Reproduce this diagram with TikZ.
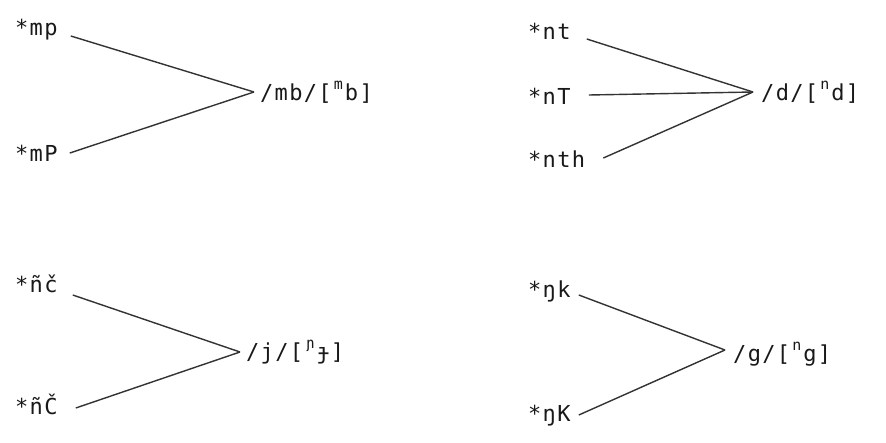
\documentclass[tikz,border=0pt]{standalone}
\usepackage{fontspec}
\newfontfamily\tw[LetterSpace=6]{DejaVu Sans Mono}
\newcommand{\supr}[1]{\setbox0\hbox{x}\makebox[\wd0][c]{\raisebox{0.52em}{\fontsize{15}{15}\selectfont #1}}}
\begin{document}
\begin{tikzpicture}[x=1pt,y=-1pt,
  lab/.style={font=\tw\fontsize{22}{26}\selectfont, inner sep=0pt, text=black!90},
  ln/.style={line width=1.4pt, draw=black!80}]
\useasboundingbox[fill=white] (0,0) rectangle (886,442);
% sources
\node[lab, anchor=base west] (m1) at (15,35) {*mp};
\node[lab, anchor=base west] (m2) at (15,161) {*mP};
\node[lab, anchor=base west] (n1) at (528,39) {*nt};
\node[lab, anchor=base west] (n2) at (528,104) {*nT};
\node[lab, anchor=base west] (n3) at (528,167) {*nth};
\node[lab, anchor=base west] (j1) at (15,292) {*ñč};
\node[lab, anchor=base west] (j2) at (15,414) {*ñČ};
\node[lab, anchor=base west] (g1) at (528,297) {*ŋk};
\node[lab, anchor=base west] (g2) at (528,421) {*ŋK};
% tips
\coordinate (t1) at (254,92);
\coordinate (t2) at (753,92);
\coordinate (t3) at (240,352);
\coordinate (t4) at (725,350);
% targets
\node[lab, anchor=west] (r1) at (260,92) {/mb/[\supr{m}b]};
\node[lab, anchor=west] (r2) at (761,92) {/d/[\supr{n}d]};
\node[lab, anchor=west] (r3) at (246,352) {/j/[\supr{ɲ}ɟ]};
\node[lab, anchor=west] (r4) at (733,354) {/g/[\supr{n}g]};
% connectors
\draw[ln] ([shift={(13,1)}]m1.base east) -- (t1);
\draw[ln] ([shift={(12,-8)}]m2.base east) -- (t1);
\draw[ln] ([shift={(16,0)}]n1.base east) -- (t2);
\draw[ln] ([shift={(18,-9)}]n2.base east) -- (t2);
\draw[ln] ([shift={(18,-9)}]n3.base east) -- (t2);
\draw[ln] ([shift={(15,3)}]j1.base east) -- (t3);
\draw[ln] ([shift={(18,-6)}]j2.base east) -- (t3);
\draw[ln] ([shift={(8,-2)}]g1.base east) -- (t4);
\draw[ln] ([shift={(8,-6)}]g2.base east) -- (t4);
\end{tikzpicture}
\end{document}
